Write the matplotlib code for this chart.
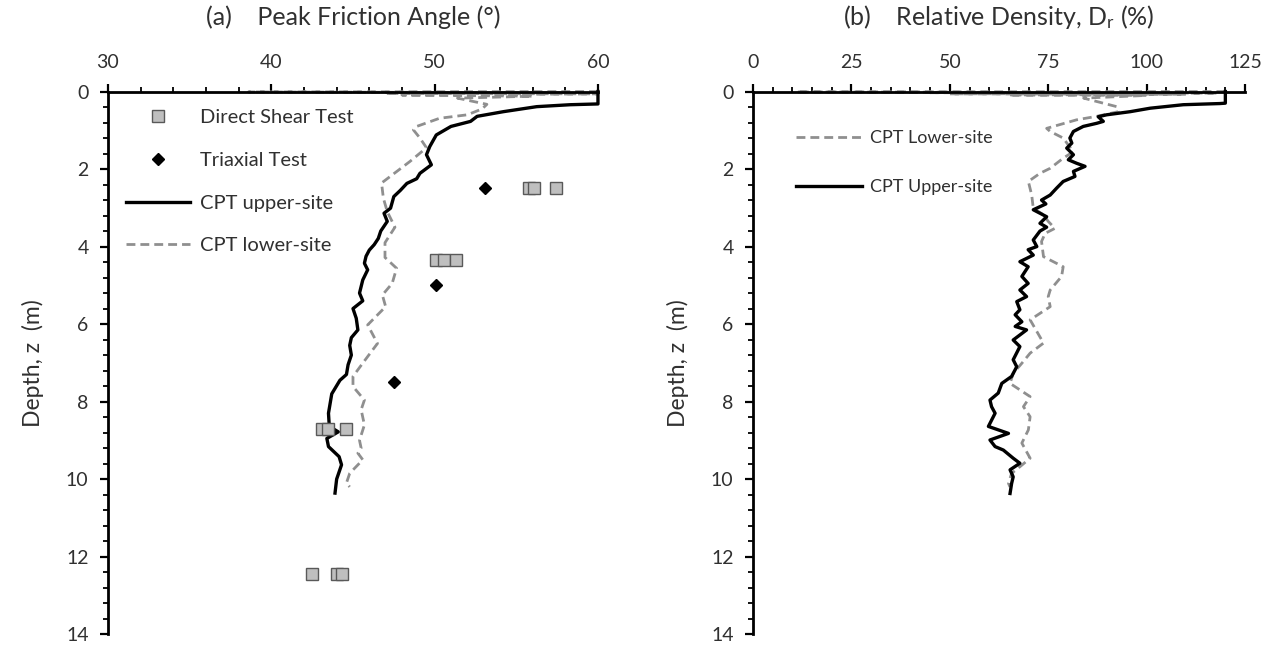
import matplotlib
matplotlib.use("Agg")
import matplotlib.pyplot as plt
from matplotlib.ticker import MultipleLocator

plt.rcParams['font.family'] = ['Lato', 'DejaVu Sans']
plt.rcParams['mathtext.fontset'] = 'custom'
plt.rcParams['mathtext.rm'] = 'Lato'
plt.rcParams['mathtext.it'] = 'Lato:italic'

# ---------------- Panel (a) data ----------------
ds_phi = [55.8, 56.1, 57.4, 50.1, 50.6, 51.3, 43.1, 43.5, 44.6, 42.5, 44.0, 44.3]
ds_depth = [2.5, 2.5, 2.5, 4.34, 4.34, 4.34, 8.7, 8.7, 8.7, 12.45, 12.45, 12.45]

tx_phi = [53.1, 50.1, 47.5]
tx_depth = [2.49, 4.99, 7.5]

up_phi = [60, 60, 58.3, 56.25, 54.2, 52.6, 52.2, 51.0, 50.1, 49.7, 49.5, 49.8,
          49.1, 48.9, 48.3, 47.9, 47.5, 47.3, 46.9, 47.1, 46.7, 46.55, 46.3,
          46.0, 45.8, 45.7, 45.9, 45.6, 45.4, 45.6, 45.0, 45.2, 45.3, 44.9,
          44.8, 44.9, 44.7, 44.6, 44.2, 43.7, 43.6, 43.5, 43.55, 44.1, 43.4,
          43.5, 44.15, 44.3, 44.0, 43.9]
up_depth = [0, 0.32, 0.34, 0.39, 0.52, 0.64, 0.77, 0.90, 1.12, 1.42, 1.63, 1.89,
            2.11, 2.25, 2.37, 2.55, 2.71, 3.01, 3.14, 3.35, 3.6, 3.79, 3.95,
            4.09, 4.25, 4.43, 4.6, 4.86, 5.2, 5.4, 5.6, 5.85, 6.15, 6.35,
            6.55, 6.8, 7.05, 7.3, 7.45, 7.8, 8.05, 8.3, 8.64, 8.78, 8.95,
            9.16, 9.42, 9.63, 10.0, 10.36]

lo_phi = [60, 38.6, 58, 47, 60, 48, 56, 51.4, 53.2, 52.9, 52.0, 50.3, 48.9,
          48.7, 49.1, 49.5, 48.5, 46.75, 46.86, 47.1, 47.57, 46.96, 46.96, 47.67,
          47.4, 46.8, 47.0, 45.9, 46.5, 45.7, 45.0, 45.0, 45.7, 45.5, 45.7,
          45.4, 45.5, 45.3, 45.6, 44.8, 44.6, 44.8]
lo_depth = [0, 0.01, 0.03, 0.05, 0.06, 0.09, 0.12, 0.17, 0.33, 0.45, 0.6, 0.69,
            0.9, 0.99, 1.2, 1.45, 1.8, 2.36, 2.75, 3.1, 3.5, 3.9, 4.28, 4.56,
            4.95, 5.25, 5.55, 6.02, 6.5, 6.95, 7.35, 7.61, 7.96, 8.21, 8.6,
            9.0, 9.2, 9.33, 9.5, 9.85, 10.1, 10.2]

# ---------------- Panel (b) data ----------------
dr_up = [120, 120, 118.6, 109.3, 100.9, 95.8, 89.85, 87.7, 89.0, 87.3, 83.9,
         81.4, 80.5, 81.0, 79.7, 81.4, 80.1, 82.2, 84.35, 81.4, 81.8, 78.8,
         77.15, 75.5, 73.3, 74.4, 71.2, 74.6, 72.9, 74.6, 72.9, 71.2, 72.1,
         69.9, 71.2, 67.8, 69.9, 68.3, 69.9, 67.8, 69.5, 67.0, 67.8, 66.6,
         68.3, 66.6, 69.5, 66.1, 67.8, 66.1, 67.0, 65.7, 63.2, 62.3, 60.2,
         60.6, 61.5, 59.8, 64.9, 60.2, 61.5, 63.6, 66.1, 67.8, 65.3, 66.1,
         65.7, 65.3]
dr_up_depth = [0, 0.30, 0.31, 0.34, 0.43, 0.52, 0.60, 0.65, 0.77, 0.82, 0.90,
               1.03, 1.20, 1.33, 1.46, 1.63, 1.76, 1.85, 1.93, 2.06, 2.19, 2.32,
               2.49, 2.67, 2.80, 2.90, 3.05, 3.23, 3.4, 3.5, 3.6, 3.83, 4.0,
               4.08, 4.22, 4.39, 4.52, 4.77, 4.95, 5.12, 5.29, 5.42, 5.63, 5.76,
               5.94, 6.06, 6.15, 6.41, 6.58, 6.92, 7.1, 7.35, 7.53, 7.78, 7.96,
               8.13, 8.30, 8.64, 8.82, 8.99, 9.16, 9.25, 9.46, 9.59, 9.76, 9.94,
               10.11, 10.37]

dr_lo = [120, 11, 60, 45, 118, 50, 110, 65, 100, 84, 92.4, 92.8, 87.3, 82.2,
         74.6, 75.5, 78.8, 80.1, 81.4, 78.8, 75.5, 72.9, 69.95, 70.8, 71.2,
         73.8, 75.0, 76.7, 74.2, 73.3, 73.8, 78.8, 78.4, 75.5, 75.0, 75.5,
         70.4, 72.1, 73.8, 70.4, 68.3, 66.1, 65.3, 70.4, 68.7, 70.4, 69.95,
         68.3, 70.4, 67.8, 65.7, 64.9, 65.3]
dr_lo_depth = [0, 0.01, 0.02, 0.03, 0.04, 0.06, 0.07, 0.09, 0.10, 0.17, 0.39,
               0.52, 0.64, 0.73, 0.95, 1.03, 1.2, 1.38, 1.55, 1.72, 1.98, 2.11,
               2.32, 2.67, 3.01, 3.18, 3.35, 3.53, 3.66, 3.87, 4.26, 4.52, 4.77,
               5.12, 5.29, 5.55, 5.89, 6.19, 6.49, 6.75, 7.01, 7.27, 7.53, 7.87,
               8.13, 8.39, 8.73, 9.07, 9.46, 9.68, 9.85, 10.11, 10.2]

depth_ticks = [0, 2, 4, 6, 8, 10, 12, 14]

TXT = '#303030'
GRAY = '#8f8f8f'
fig = plt.figure(figsize=(12.72, 6.46), dpi=100)
ax1 = fig.add_axes([0.0849, 0.0183, 0.3852, 0.8400])
ax2 = fig.add_axes([0.5920, 0.0183, 0.3868, 0.8400])

dash = (0, (3.2, 1.8))


def style(ax, xmin, xmax, xmaj, xmin_step):
    ax.set_xlim(xmin, xmax)
    ax.set_ylim(14, 0)
    ax.xaxis.set_major_locator(MultipleLocator(xmaj))
    ax.xaxis.set_minor_locator(MultipleLocator(xmin_step))
    ax.yaxis.set_major_locator(MultipleLocator(2))
    ax.yaxis.set_minor_locator(MultipleLocator(0.4))
    ax.set_yticks(depth_ticks)
    ax.xaxis.tick_top()
    for s in ['right', 'bottom']:
        ax.spines[s].set_visible(False)
    for s in ['top', 'left']:
        ax.spines[s].set_linewidth(2.0)
        ax.spines[s].set_color('black')
    ax.tick_params(which='major', direction='out', length=6, width=1.6,
                   labelsize=14, labelcolor=TXT)
    ax.tick_params(axis='x', which='major', pad=9)
    ax.tick_params(axis='y', which='major', pad=8)
    ax.tick_params(which='minor', direction='out', length=3.5, width=1.3)
    ax.tick_params(axis='x', which='both', top=True, bottom=False)
    ax.set_ylabel('Depth, z  (m)', fontsize=16.5, color=TXT, labelpad=16)


style(ax1, 30, 60, 10, 2)
style(ax2, 0, 125, 25, 5)

# Panel (a)
ax1.plot(ds_phi, ds_depth, linestyle='none', marker='s', markersize=8.5,
         markerfacecolor='#bfbfbf', markeredgecolor='#595959',
         markeredgewidth=1.0, label='Direct Shear Test', zorder=4)
ax1.plot(tx_phi, tx_depth, linestyle='none', marker='D', markersize=6.5,
         color='black', label='Triaxial Test', zorder=4)
ax1.plot(up_phi, up_depth, color='black', linewidth=2.4, label='CPT upper-site',
         zorder=3, clip_on=False)
ax1.plot(lo_phi, lo_depth, color=GRAY, linewidth=2.0, linestyle=dash,
         label='CPT lower-site', zorder=2, clip_on=False)
ax1.legend(loc='upper left', bbox_to_anchor=(0.003, 0.997), frameon=False,
           fontsize=14.5, labelcolor=TXT, handlelength=3.2, handletextpad=0.5,
           labelspacing=1.27, borderpad=0.3)
ax1.set_title('(a)    Peak Friction Angle (°)', fontsize=18, color=TXT, pad=48)

# Panel (b)
ax2.plot(dr_lo, dr_lo_depth, color=GRAY, linewidth=2.0, linestyle=dash,
         label='CPT Lower-site', zorder=2, clip_on=False)
ax2.plot(dr_up, dr_up_depth, color='black', linewidth=2.4, label='CPT Upper-site',
         zorder=3, clip_on=False)
ax2.legend(loc='upper left', bbox_to_anchor=(0.057, 0.955), frameon=False,
           fontsize=13, labelcolor=TXT, handlelength=3.7, handletextpad=0.45,
           labelspacing=1.8, borderpad=0.3)
ax2.set_title('(b)    Relative Density, D$_\\mathrm{r}$ (%)', fontsize=18,
              color=TXT, pad=48)

fig.savefig('out.png', dpi=100)
